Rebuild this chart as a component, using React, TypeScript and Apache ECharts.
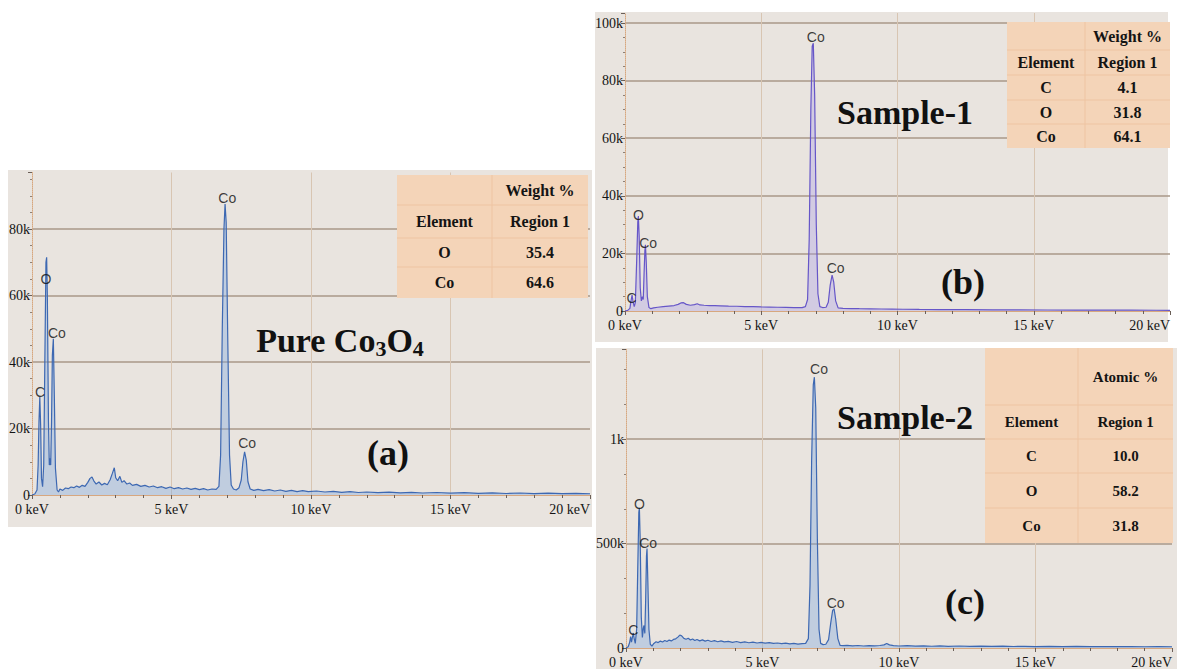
import React, { useEffect, useRef } from 'react';
import * as echarts from 'echarts';

// ---- axis tick labels ----
const xTickLabels = ['0 keV', '5 keV', '10 keV', '15 keV', '20 keV'];
const yTickLabelsA = ['0', '20k', '40k', '60k', '80k'];
const yTickLabelsB = ['0', '20k', '40k', '60k', '80k', '100k'];
const yTickLabelsC = ['0', '500k', '1k'];

// ---- EDS spectra: [energy keV, counts] ----
const spectrumA: [number, number][] = [
  [0.0, 0], [0.1, 300], [0.18, 1500], [0.22, 9000], [0.25, 22000], [0.28, 29500], [0.31, 21000],
  [0.34, 5000], [0.38, 2500], [0.42, 9000], [0.46, 40000], [0.5, 70000], [0.525, 71500], [0.55, 60000],
  [0.59, 22000], [0.62, 9000], [0.645, 11000], [0.67, 9000], [0.7, 22000], [0.73, 42000], [0.765, 47000],
  [0.8, 30000], [0.84, 8000], [0.9, 1500], [0.95, 900], [1.0, 1800], [1.1, 1400], [1.2, 2100], [1.3, 1900],
  [1.4, 2400], [1.5, 2200], [1.6, 2700], [1.7, 2300], [1.8, 2900], [1.9, 2600], [2.0, 3800], [2.08, 5000],
  [2.15, 5400], [2.22, 4200], [2.3, 3300], [2.4, 3900], [2.5, 3000], [2.6, 3500], [2.7, 3100], [2.8, 4600],
  [2.88, 6500], [2.95, 8200], [3.0, 5200], [3.07, 4300], [3.15, 5600], [3.22, 3800], [3.3, 4300], [3.4, 3300],
  [3.5, 3600], [3.6, 2900], [3.75, 3200], [3.9, 2600], [4.05, 2900], [4.2, 2400], [4.35, 2700], [4.5, 2200],
  [4.65, 2500], [4.8, 2000], [4.95, 2400], [5.1, 1900], [5.25, 2200], [5.4, 1800], [5.55, 2100], [5.7, 1700],
  [5.85, 2000], [6.0, 1600], [6.15, 1900], [6.3, 1500], [6.45, 1800], [6.6, 1700], [6.7, 2600], [6.76, 12000],
  [6.82, 50000], [6.88, 80000], [6.92, 87500], [6.96, 82000], [7.02, 45000], [7.08, 12000], [7.14, 3000],
  [7.22, 1800], [7.32, 1500], [7.42, 2200], [7.5, 4500], [7.56, 10000], [7.62, 13000], [7.68, 10500],
  [7.74, 4000], [7.82, 1800], [7.95, 1400], [8.1, 1700], [8.3, 1300], [8.5, 1600], [8.7, 1200], [8.9, 1500],
  [9.1, 1100], [9.3, 1400], [9.5, 1000], [9.7, 1300], [9.9, 1000], [10.2, 1200], [10.5, 900], [10.8, 1100],
  [11.1, 800], [11.4, 1000], [11.7, 750], [12.0, 900], [12.4, 700], [12.8, 850], [13.2, 650], [13.6, 800],
  [14.0, 600], [14.5, 750], [15.0, 550], [15.5, 700], [16.0, 500], [16.5, 650], [17.0, 450], [17.5, 600],
  [18.0, 420], [18.5, 550], [19.0, 400], [19.5, 500], [20.0, 380],
];

const spectrumB: [number, number][] = [
  [0.0, 0], [0.1, 200], [0.18, 900], [0.22, 3500], [0.26, 5500], [0.3, 3000], [0.34, 1500], [0.38, 3000],
  [0.43, 18000], [0.47, 31000], [0.49, 33000], [0.52, 26000], [0.56, 8000], [0.6, 3500], [0.64, 5000],
  [0.67, 4000], [0.7, 13000], [0.73, 21000], [0.75, 23000], [0.78, 17000], [0.82, 5000], [0.88, 1200],
  [0.95, 800], [1.05, 1100], [1.2, 1300], [1.4, 1500], [1.6, 1700], [1.8, 1900], [1.95, 2300], [2.05, 2800],
  [2.15, 2900], [2.25, 2300], [2.4, 2000], [2.55, 2200], [2.65, 2500], [2.75, 2100], [2.9, 2000], [3.1, 1900],
  [3.3, 1850], [3.5, 1800], [3.8, 1700], [4.1, 1650], [4.4, 1550], [4.7, 1500], [5.0, 1400], [5.3, 1350],
  [5.6, 1300], [5.9, 1250], [6.2, 1200], [6.5, 1200], [6.62, 1500], [6.7, 4000], [6.76, 25000], [6.82, 70000],
  [6.87, 92000], [6.91, 93000], [6.96, 75000], [7.02, 30000], [7.08, 6000], [7.15, 1500], [7.25, 1200],
  [7.38, 1300], [7.46, 3000], [7.53, 9000], [7.6, 12500], [7.66, 10000], [7.73, 3500], [7.82, 1100],
  [8.0, 900], [8.3, 850], [8.6, 800], [9.0, 750], [9.4, 700], [9.8, 650], [10.2, 600], [10.8, 550],
  [11.5, 500], [12.5, 450], [13.5, 400], [14.5, 380], [15.5, 350], [16.5, 320], [17.5, 300], [18.5, 280],
  [19.5, 260], [20.0, 250],
];

const spectrumC: [number, number][] = [
  [0.0, 0], [0.08, 6000], [0.13, 25000], [0.17, 55000], [0.2, 28000], [0.24, 55000], [0.27, 72000],
  [0.3, 45000], [0.34, 22000], [0.39, 90000], [0.43, 380000], [0.47, 650000], [0.49, 672000], [0.52, 520000],
  [0.56, 150000], [0.6, 50000], [0.635, 95000], [0.66, 108000], [0.69, 70000], [0.72, 230000], [0.75, 440000],
  [0.77, 476000], [0.8, 320000], [0.84, 90000], [0.89, 18000], [0.95, 9000], [1.02, 22000], [1.1, 30000],
  [1.18, 26000], [1.26, 33000], [1.34, 29000], [1.42, 36000], [1.5, 31000], [1.58, 38000], [1.66, 34000],
  [1.74, 41000], [1.82, 44000], [1.9, 52000], [1.97, 62000], [2.04, 58000], [2.12, 46000], [2.2, 42000],
  [2.28, 47000], [2.36, 38000], [2.44, 43000], [2.52, 36000], [2.6, 41000], [2.7, 34000], [2.8, 39000],
  [2.9, 33000], [3.0, 37000], [3.12, 31000], [3.24, 35000], [3.36, 30000], [3.48, 34000], [3.6, 29000],
  [3.75, 32000], [3.9, 27000], [4.05, 31000], [4.2, 26000], [4.35, 29000], [4.5, 25000], [4.65, 28000],
  [4.8, 24000], [4.95, 27000], [5.1, 23000], [5.25, 26000], [5.4, 22000], [5.55, 24000], [5.7, 21000],
  [5.85, 23000], [6.0, 20000], [6.15, 22000], [6.3, 19000], [6.45, 21000], [6.58, 22000], [6.68, 45000],
  [6.74, 300000], [6.8, 900000], [6.86, 1260000], [6.9, 1297000], [6.95, 1150000], [7.01, 520000],
  [7.07, 90000], [7.13, 22000], [7.22, 16000], [7.32, 18000], [7.42, 40000], [7.5, 120000], [7.57, 180000],
  [7.62, 187000], [7.68, 140000], [7.76, 45000], [7.84, 13000], [7.95, 11000], [8.1, 13000], [8.3, 10000],
  [8.5, 12000], [8.7, 9500], [8.9, 11500], [9.1, 10000], [9.3, 12000], [9.45, 15000], [9.55, 22000],
  [9.65, 15000], [9.8, 11000], [10.0, 9500], [10.3, 11000], [10.6, 9000], [10.9, 10500], [11.2, 8500],
  [11.5, 10000], [11.8, 8000], [12.2, 9500], [12.6, 7800], [13.0, 9000], [13.4, 7500], [13.8, 8600],
  [14.2, 7200], [14.6, 8200], [15.0, 7000], [15.5, 8000], [16.0, 6800], [16.5, 7600], [17.0, 6500],
  [17.5, 7300], [18.0, 6300], [18.5, 7000], [19.0, 6000], [19.5, 6700], [20.0, 6000],
];

// ---- peak labels (label centre in keV / counts) ----
const peaksA = [
  { name: 'C', keV: 0.29, counts: 31000 },
  { name: 'O', keV: 0.5, counts: 65000 },
  { name: 'Co', keV: 0.89, counts: 48700 },
  { name: 'Co', keV: 7.0, counts: 89300 },
  { name: 'Co', keV: 7.71, counts: 15600 },
];
const peaksB = [
  { name: 'C', keV: 0.24, counts: 4600 },
  { name: 'O', keV: 0.49, counts: 33300 },
  { name: 'Co', keV: 0.85, counts: 23700 },
  { name: 'Co', keV: 7.0, counts: 95000 },
  { name: 'Co', keV: 7.73, counts: 14800 },
];
const peaksC = [
  { name: 'C', keV: 0.27, counts: 86000 },
  { name: 'O', keV: 0.49, counts: 690000 },
  { name: 'Co', keV: 0.81, counts: 504000 },
  { name: 'Co', keV: 7.07, counts: 1336000 },
  { name: 'Co', keV: 7.68, counts: 215000 },
];

// ---- quantification tables ----
const tableAHeader = ['', 'Weight %'];
const tableAColumns = ['Element', 'Region 1'];
const tableAElements = ['O', 'Co'];
const tableAValues = ['35.4', '64.6'];

const tableBHeader = ['', 'Weight %'];
const tableBColumns = ['Element', 'Region 1'];
const tableBElements = ['C', 'O', 'Co'];
const tableBValues = ['4.1', '31.8', '64.1'];

const tableCHeader = ['', 'Atomic %'];
const tableCColumns = ['Element', 'Region 1'];
const tableCElements = ['C', 'O', 'Co'];
const tableCValues = ['10.0', '58.2', '31.8'];

const serif = "'Liberation Serif', 'Times New Roman', Times, serif";
const sans = "'Liberation Sans', Arial, sans-serif";
const panelBg = '#e9e4df';
const axisOrange = '#d7a77f';
const tickColor = '#6b5f57';

function xAxisFor(gridIndex: number, alignMax: string) {
  return {
    type: 'value',
    gridIndex,
    min: 0,
    max: 20,
    interval: 5,
    axisLine: { show: true, onZero: false, lineStyle: { color: axisOrange, width: 1 } },
    axisTick: { show: true, length: 4, lineStyle: { color: tickColor } },
    minorTick: { show: true, splitNumber: 5, length: 3, lineStyle: { color: tickColor } },
    axisLabel: {
      margin: 7,
      fontFamily: serif,
      fontSize: 14,
      color: '#141414',
      alignMaxLabel: alignMax,
      formatter: (v: number) => xTickLabels[Math.round(v / 5)] ?? '',
    },
    splitLine: { show: true, showMinLine: false, showMaxLine: false, lineStyle: { color: '#d8c5b2', width: 1 } },
  };
}

function yAxisFor(gridIndex: number, max: number, interval: number, labels: string[], minorSplit: number) {
  return {
    type: 'value',
    gridIndex,
    min: 0,
    max,
    interval,
    axisLine: { show: true, lineStyle: { color: axisOrange, type: 'dotted', width: 1 } },
    axisTick: { show: true, length: 4, lineStyle: { color: tickColor } },
    minorTick: { show: true, splitNumber: minorSplit, length: 2, lineStyle: { color: '#8d8076' } },
    axisLabel: {
      margin: 2,
      fontFamily: serif,
      fontSize: 14,
      color: '#141414',
      showMaxLabel: false,
      formatter: (v: number) => {
        const i = Math.round(v / interval);
        return Math.abs(i * interval - v) < 1e-6 ? labels[i] ?? '' : '';
      },
    },
    splitLine: { show: true, showMinLine: false, showMaxLine: false, lineStyle: { color: '#a89888', width: 1.5 } },
  };
}

function spectrumSeries(idx: number, data: [number, number][], line: string, area: string) {
  return {
    type: 'line',
    xAxisIndex: idx,
    yAxisIndex: idx,
    data,
    symbol: 'none',
    showSymbol: false,
    silent: true,
    lineStyle: { color: line, width: 1.2 },
    areaStyle: { color: area },
    z: 2,
  };
}

function peakLabelSeries(idx: number, peaks: { name: string; keV: number; counts: number }[]) {
  return {
    type: 'scatter',
    xAxisIndex: idx,
    yAxisIndex: idx,
    symbolSize: 1,
    silent: true,
    itemStyle: { color: 'rgba(0,0,0,0)' },
    data: peaks.map((p) => ({ name: p.name, value: [p.keV, p.counts] })),
    label: {
      show: true,
      position: 'inside',
      formatter: '{b}',
      fontFamily: sans,
      fontSize: 14,
      color: '#0d0d0d',
    },
    z: 5,
  };
}

function tableGraphics(
  left: number,
  colSplit: number,
  right: number,
  rowEdges: number[],
  header: string[],
  columns: string[],
  elements: string[],
  values: string[],
  fontSize: number,
) {
  const rows = [header, columns, ...elements.map((e, i) => [e, values[i]])];
  const top = rowEdges[0];
  const bottom = rowEdges[rowEdges.length - 1];
  const els: any[] = [
    { type: 'rect', z: 10, shape: { x: left, y: top, width: right - left, height: bottom - top }, style: { fill: '#f4d4b8' } },
    { type: 'line', z: 11, shape: { x1: colSplit, y1: top, x2: colSplit, y2: bottom }, style: { stroke: '#eec4a2', lineWidth: 1 } },
  ];
  for (let r = 1; r < rowEdges.length - 1; r++) {
    els.push({
      type: 'line',
      z: 11,
      shape: { x1: left, y1: rowEdges[r], x2: right, y2: rowEdges[r] },
      style: { stroke: '#eec4a2', lineWidth: 1 },
    });
  }
  rows.forEach((row, r) => {
    const cy = (rowEdges[r] + rowEdges[r + 1]) / 2;
    row.forEach((t, c) => {
      if (!t) return;
      const cx = c === 0 ? (left + colSplit) / 2 : (colSplit + right) / 2;
      els.push({
        type: 'text',
        z: 12,
        x: cx,
        y: cy,
        style: {
          text: t,
          fontFamily: serif,
          fontWeight: 'bold',
          fontSize,
          fill: '#141414',
          align: 'center',
          verticalAlign: 'middle',
        },
      });
    });
  });
  return els;
}

function titleText(x: number, y: number, text: string, fontSize: number) {
  return {
    type: 'text',
    z: 12,
    x,
    y,
    style: {
      text,
      fontFamily: serif,
      fontWeight: 'bold',
      fontSize,
      fill: '#111111',
      align: 'center',
      verticalAlign: 'middle',
      rich: {
        s: { fontFamily: serif, fontWeight: 'bold', fontSize: 22, verticalAlign: 'top', padding: [16, 0, 0, 0] },
      },
    },
  };
}

export default function App() {
  const ref = useRef<HTMLDivElement>(null);

  useEffect(() => {
    if (!ref.current) return;
    const chart = echarts.init(ref.current, null, { renderer: 'svg' });

    const option: any = {
      animation: false,
      backgroundColor: '#ffffff',
      grid: [
        { left: 32, top: 172.5, width: 558, height: 322.5, outerBoundsMode: 'none', containLabel: false },
        { left: 625, top: 13, width: 545, height: 298, outerBoundsMode: 'none', containLabel: false },
        { left: 626, top: 349.4, width: 546, height: 298.6, outerBoundsMode: 'none', containLabel: false },
      ],
      xAxis: [xAxisFor(0, 'right'), xAxisFor(1, 'right'), xAxisFor(2, 'right')],
      yAxis: [
        yAxisFor(0, 97000, 20000, yTickLabelsA, 4),
        yAxisFor(1, 103500, 20000, yTickLabelsB, 4),
        yAxisFor(2, 1430000, 500000, yTickLabelsC, 3),
      ],
      series: [
        spectrumSeries(0, spectrumA, '#3d68b2', 'rgba(128,168,224,0.55)'),
        spectrumSeries(1, spectrumB, '#6656c8', 'rgba(168,158,232,0.5)'),
        spectrumSeries(2, spectrumC, '#3d68b2', 'rgba(128,168,224,0.55)'),
        peakLabelSeries(0, peaksA),
        peakLabelSeries(1, peaksB),
        peakLabelSeries(2, peaksC),
      ],
      graphic: {
        elements: [
          // panel backgrounds
          { type: 'rect', z: -10, shape: { x: 8, y: 170, width: 584, height: 357 }, style: { fill: panelBg } },
          { type: 'rect', z: -10, shape: { x: 595, y: 12, width: 573, height: 330 }, style: { fill: panelBg } },
          { type: 'rect', z: -10, shape: { x: 596, y: 348, width: 581, height: 321 }, style: { fill: panelBg } },
          // tables
          ...tableGraphics(397, 492, 588, [175, 205, 238, 267, 298], tableAHeader, tableAColumns, tableAElements, tableAValues, 16),
          ...tableGraphics(1007, 1085, 1170, [22, 50, 75, 100, 124, 148], tableBHeader, tableBColumns, tableBElements, tableBValues, 16),
          ...tableGraphics(985, 1078, 1173, [348, 405, 439, 473, 508, 543], tableCHeader, tableCColumns, tableCElements, tableCValues, 15),
          // titles
          titleText(340, 340, 'Pure Co{s|3}O{s|4}', 34),
          titleText(388, 453, '(a)', 36),
          titleText(905, 112, 'Sample-1', 34),
          titleText(963, 282, '(b)', 36),
          titleText(905, 417, 'Sample-2', 34),
          titleText(965, 602, '(c)', 36),
        ],
      },
    };

    chart.setOption(option);
    return () => chart.dispose();
  }, []);

  return (
    <div
      ref={ref}
      style={{ position: 'absolute', left: 0, top: 0, width: 1177, height: 669, background: '#ffffff' }}
    />
  );
}
